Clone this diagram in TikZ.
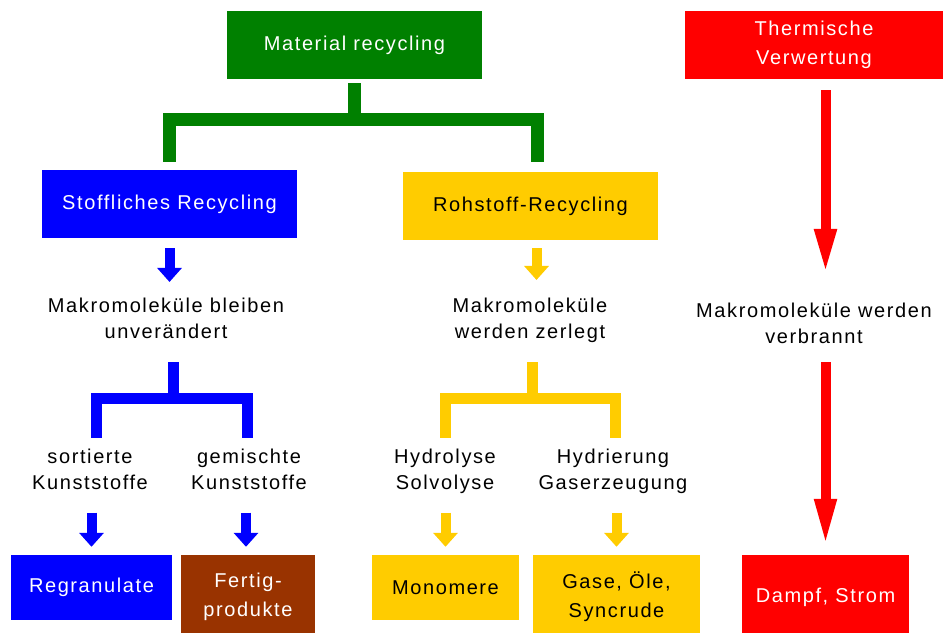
\documentclass[tikz,border=0pt]{standalone}
\usepackage{fontspec}
\setmainfont{Liberation Sans}[LetterSpace=8]
\usetikzlibrary{arrows.meta}
\definecolor{gruen}{RGB}{0,128,0}
\definecolor{blau}{RGB}{0,0,255}
\definecolor{gelb}{RGB}{255,204,0}
\definecolor{rot}{RGB}{255,0,0}
\definecolor{braun}{RGB}{153,51,0}

\begin{document}
\begin{tikzpicture}[x=1pt, y=-1pt,
  box/.style={inner sep=0pt, text=white, align=center, font=\fontsize{20}{29}\selectfont},
  txt/.style={inner sep=0pt, align=center, font=\fontsize{20}{26}\selectfont},
  klammer/.style={line width=11pt, line join=miter},
  pfeil/.style={line width=10pt, -{Triangle[length=14pt,width=24pt]}}]
	\useasboundingbox (0,0) rectangle (952,632);
	\fill[white] (0,0) rectangle (952,632);
	\clip (0,0) rectangle (952,632);
	% obere Reihe
	\node[box, fill=gruen, minimum width=255pt, minimum height=68pt] (mat) at (354.5,45) {Material recycling};
	\node[box, fill=rot, minimum width=258pt, minimum height=68pt] (therm) at (814,45) {Thermische\\Verwertung};
	\node[box, fill=blau, minimum width=255pt, minimum height=68pt] (stoff) at (169.5,204) {Stoffliches Recycling};
	\node[box, fill=gelb, text=black, minimum width=255pt, minimum height=68pt] (roh) at (530.5,206) {Rohstoff-Recycling};
	% Texte
	\node[txt] (mak1) at (166,318.5) {Makromoleküle bleiben\\unverändert};
	\node[txt] (mak2) at (530,320.5) {Makromoleküle\\werden zerlegt};
	\node[txt] (mak3) at (814,323.5) {Makromoleküle werden\\verbrannt};
	\node[txt] (sort) at (90,469) {sortierte\\Kunststoffe};
	\node[txt] (gem) at (249,469) {gemischte\\Kunststoffe};
	\node[txt] (hyd) at (445,471) {Hydrolyse\\Solvolyse};
	\node[txt] (hydr) at (613,471) {Hydrierung\\Gaserzeugung};
	% untere Reihe
	\node[box, fill=blau, minimum width=161pt, minimum height=65pt] (regr) at (91.5,587.5) {Regranulate};
	\node[box, fill=braun, minimum width=134pt, minimum height=84pt] (fert) at (248,597) {Fertig-\\produkte};
	\node[box, fill=gelb, text=black, minimum width=147pt, minimum height=65pt] (mono) at (445.5,587.5) {Monomere};
	\node[box, fill=gelb, text=black, minimum width=167pt, minimum height=84pt] (gase) at (616.5,597) {Gase, Öle,\\Syncrude};
	\node[box, fill=rot, minimum width=167pt, minimum height=84pt] (dampf) at (825.5,597) {Dampf, Strom};
	% Klammern
	\draw[klammer, gruen, line width=12.5pt, shorten <=4pt, shorten >=8pt] (mat.south) -- ++(0,40.5) -| (stoff.north);
	\draw[klammer, gruen, line width=12.5pt, shorten <=4pt, shorten >=10pt] (mat.south) -- ++(0,40.5) -| ([xshift=7pt]roh.north);
	\draw[klammer, blau, shorten <=23pt, shorten >=10.5pt] ([xshift=7pt]mak1.south) -- ++(0,59) -| ([xshift=6pt]sort.north);
	\draw[klammer, blau, shorten <=23pt, shorten >=10.5pt] ([xshift=7pt]mak1.south) -- ++(0,59) -| ([xshift=-2pt]gem.north);
	\draw[klammer, gelb, shorten <=19pt, shorten >=10.5pt] ([xshift=2pt]mak2.south) -- ++(0,55) -| (hyd.north);
	\draw[klammer, gelb, shorten <=19pt, shorten >=10.5pt] ([xshift=2pt]mak2.south) -- ++(0,55) -| ([xshift=2pt]hydr.north);
	% Pfeile
	\draw[pfeil, blau, shorten <=10pt, shorten >=16pt] (stoff.south) -- (stoff.south |- mak1.north);
	\draw[pfeil, gelb, shorten <=8pt, shorten >=18pt] ([xshift=6pt]roh.south) -- ([xshift=6pt]roh.south |- mak2.north);
	\draw[pfeil, blau, shorten <=23pt, shorten >=8pt] (regr.north |- sort.south) -- (regr.north);
	\draw[pfeil, blau, shorten <=23pt, shorten >=8pt] ([xshift=-2pt]fert.north |- gem.south) -- ([xshift=-2pt]fert.north);
	\draw[pfeil, gelb, shorten <=19pt, shorten >=8pt] (mono.north |- hyd.south) -- (mono.north);
	\draw[pfeil, gelb, shorten <=19pt, shorten >=8pt] (gase.north |- hydr.south) -- (gase.north);
	\draw[rot, line width=10pt, -{Triangle[length=46pt,width=20pt]}, shorten <=11pt, shorten >=28pt] (therm.south -| dampf.north) -- (mak3.north -| dampf.north);
	\draw[rot, line width=10pt, -{Triangle[length=48pt,width=20pt]}, shorten <=18pt, shorten >=8pt] (mak3.south -| dampf.north) -- (dampf.north);
\end{tikzpicture}
\end{document}
